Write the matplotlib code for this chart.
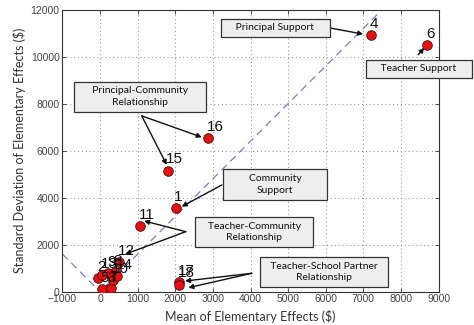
import matplotlib
matplotlib.use("Agg")
import matplotlib.pyplot as plt
import numpy as np

# Data: elementary effects (mean, standard deviation) per input factor
factor_ids = ["1", "2", "3", "4", "5", "6", "7", "8", "9", "10",
              "11", "12", "13", "14", "15", "16", "17", "18"]
mean_ee = [2010, -45, 240, 7200, 45, 8700, 290, 400, 220, 350,
           1060, 500, 60, 450, 1800, 2870, 2100, 2100]
sd_ee = [3550, 570, 100, 10920, 100, 10500, 170, 850, 780, 500,
         2800, 1270, 700, 670, 5150, 6530, 420, 300]

x_ticks = [-1000, 0, 1000, 2000, 3000, 4000, 5000, 6000, 7000, 8000, 9000]
y_ticks = [0, 2000, 4000, 6000, 8000, 10000, 12000]
ref_slope = 1.6

W, H = 474, 325
fig = plt.figure(figsize=(W / 100, H / 100), dpi=100)
ax = fig.add_axes([62.4 / W, 1 - 291.7 / H, (438.6 - 62.4) / W, (291.7 - 9.5) / H])

ax.set_xlim(-1000, 9000)
ax.set_ylim(0, 12000)

# reference line sigma = 1.6*|mu|
xl = np.array([-1000, 0, 9000])
ax.plot(xl, ref_slope * np.abs(xl), linestyle=(0, (6, 4)), color="#7f7cc4", lw=0.9, zorder=1)

ax.scatter(mean_ee, sd_ee, s=48, c="#e81010", edgecolors="#401010", linewidths=0.6, zorder=3)

lab_font = dict(family="Liberation Sans", fontsize=11, color="#111111")
for fid, mx, my in zip(factor_ids, mean_ee, sd_ee):
    ax.annotate(fid, (mx, my), xytext=(-1, 3), textcoords="offset points",
                ha="left", va="bottom", zorder=4, **lab_font)

ax.set_xticks(x_ticks)
ax.set_yticks(y_ticks)
ax.grid(True, linestyle=(0, (1, 2.5)), color="#999999", lw=0.8)
ax.tick_params(direction="in", top=True, right=True, length=3, width=0.6,
               labelsize=7.5, colors="#333333", pad=2)
for lab in ax.get_xticklabels() + ax.get_yticklabels():
    lab.set_family("Liberation Sans")
    lab.set_color("#444444")
for sp in ax.spines.values():
    sp.set_color("#333333")
    sp.set_linewidth(0.8)

ax.set_xlabel("Mean of Elementary Effects ($)", family="Lato", fontsize=9, color="#333333", labelpad=4)
ax.set_ylabel("Standard Deviation of Elementary Effects ($)", family="Lato", fontsize=9,
              color="#333333", labelpad=3)

box = dict(boxstyle="square,pad=0.45", fc="#eeeeee", ec="#333333", lw=0.9)
box_font = dict(family="Lato", fontsize=7.5, color="#111111", ha="center", va="center",
                linespacing=1.4, zorder=5, annotation_clip=False)
arrow = dict(arrowstyle="-|>", color="#111111", lw=1.0, mutation_scale=7, shrinkA=0, shrinkB=0)


def callout(text, center, start, tips):
    ax.annotate(text, xy=center, xycoords="data", bbox=dict(box), **box_font)
    for t in tips:
        ax.annotate("", xy=t, xytext=start, arrowprops=arrow, zorder=4, annotation_clip=False)


callout("    Principal Support    ", (4654, 11221), (6090, 11221), [(6995, 10953)])
callout("    Teacher Support    ", (8471, 9477), (8457, 10072), [(8617, 10370)])
callout("     Principal-Community     \nRelationship", (1064, 8285), (1109, 7477),
        [(2705, 6570), (1774, 5391)])
callout("        Community        \nSupport", (4654, 4562), (3237, 4540), [(2173, 3617)])
callout("   Teacher-Community   \nRelationship", (4096, 2540), (2279, 2553),
        [(1170, 3009), (665, 1591)])
callout("  Teacher-School Partner  \nRelationship", (5957, 838), (4035, 783),
        [(2261, 455), (2348, 170)])

fig.savefig("out.png", dpi=100)
